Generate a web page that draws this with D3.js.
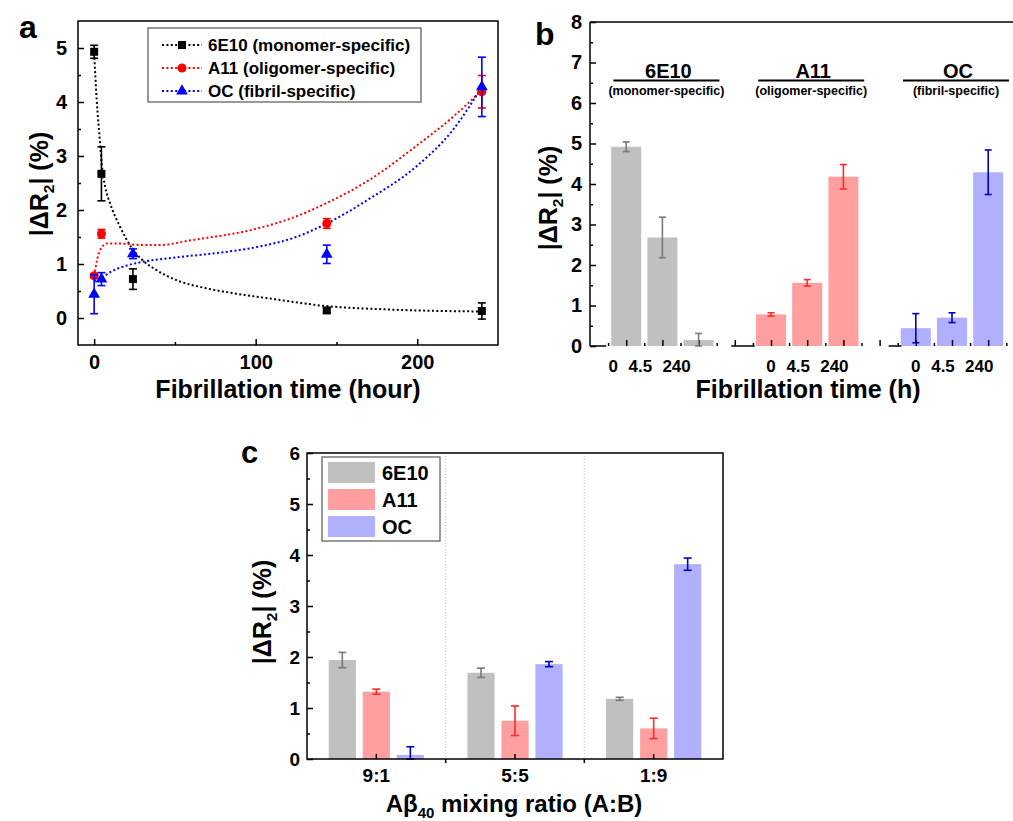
<!DOCTYPE html>
<html>
<head>
<meta charset="utf-8">
<script src="https://cdn.jsdelivr.net/npm/d3@7"></script>
<style>
  body { margin: 0; background: #fff; }
  svg { display: block; font-family: "Liberation Sans", Arial, sans-serif; font-weight: bold; }
</style>
</head>
<body>
<svg id="fig" width="1013" height="821"></svg>
<script>
// ---- panel a: |dR2| vs fibrillation time ----
const monoT = [0, 4.5, 24, 144, 240];
const monoV = [4.93, 2.67, 0.72, 0.14, 0.13];
const monoE = [0.12, 0.5, 0.19, 0.04, 0.15];
const oligoT = [0, 4.5, 144, 240];
const oligoV = [0.78, 1.56, 1.75, 4.19];
const oligoE = [0.04, 0.08, 0.09, 0.3];
const fibT = [0, 4.5, 24, 144, 240];
const fibV = [0.44, 0.72, 1.19, 1.18, 4.28];
const fibE = [0.36, 0.12, 0.09, 0.17, 0.55];

// fitted curves
const monoFitX = [0, 1.6, 3.7, 4.7, 6.8, 9.9, 16, 23, 30, 39, 51, 68, 88, 109, 144, 180, 240];
const monoFitY = [4.9, 4.03, 3.23, 2.85, 2.43, 2.12, 1.69, 1.31, 1.07, 0.88, 0.70, 0.56, 0.45, 0.36, 0.22, 0.16, 0.12];
const oligoFitX = [0, 2, 4.5, 8, 15, 30, 40, 60, 100, 125, 144, 170, 200, 222, 240];
const oligoFitY = [0.78, 1.1, 1.3, 1.38, 1.38, 1.35, 1.35, 1.44, 1.65, 1.88, 2.13, 2.55, 3.2, 3.72, 4.22];
const fibFitX = [0, 4.5, 10, 20, 30, 50, 75, 100, 125, 144, 170, 200, 222, 240];
const fibFitY = [0.68, 0.74, 0.85, 0.97, 1.04, 1.12, 1.2, 1.31, 1.5, 1.75, 2.2, 2.82, 3.48, 4.28];

const legendA = ["6E10 (monomer-specific)", "A11 (oligomer-specific)", "OC (fibril-specific)"];

// ---- panel b ----
const antibodies = ["6E10", "A11", "OC"];
const specific = ["(monomer-specific)", "(oligomer-specific)", "(fibril-specific)"];
const timeLabels = ["0", "4.5", "240"];
const b6E10 = [4.92, 2.68, 0.15];
const b6E10Err = [0.12, 0.5, 0.16];
const bA11 = [0.78, 1.56, 4.18];
const bA11Err = [0.04, 0.08, 0.3];
const bOC = [0.44, 0.70, 4.29];
const bOCErr = [0.36, 0.12, 0.55];

// ---- panel c ----
const ratios = ["9:1", "5:5", "1:9"];
const c6E10 = [1.94, 1.69, 1.18];
const c6E10Err = [0.15, 0.09, 0.03];
const cA11 = [1.32, 0.75, 0.6];
const cA11Err = [0.05, 0.29, 0.2];
const cOC = [0.08, 1.86, 3.82];
const cOCErr = [0.16, 0.05, 0.12];

const barFill = { "6E10": "#c0c0c0", "A11": "#ff9f9f", "OC": "#b0b0ff" };
const errColor = { "6E10": "#7a7a7a", "A11": "#ff2a2a", "OC": "#0000c0" };
const lineColor = { "6E10": "#000000", "A11": "#ff0000", "OC": "#0000ff" };

const svg = d3.select("#fig");
svg.append("rect").attr("width", 1013).attr("height", 821).attr("fill", "#fff");

function styleAxis(g, fs) {
  g.attr("font-family", null).attr("font-size", null);
  g.select(".domain").remove();
  g.selectAll("line").attr("stroke", "#000").attr("stroke-width", 1.5);
  g.selectAll("text").attr("font-size", fs).attr("fill", "#000");
}

function errorBar(g, x, y1, y2, color, cap) {
  g.append("line").attr("x1", x).attr("x2", x).attr("y1", y1).attr("y2", y2)
    .attr("stroke", color).attr("stroke-width", 1.6);
  [y1, y2].forEach(y => g.append("line").attr("x1", x - cap / 2).attr("x2", x + cap / 2)
    .attr("y1", y).attr("y2", y).attr("stroke", color).attr("stroke-width", 1.6));
}

function yTitle(x, y, fs) {
  const t = svg.append("text")
    .attr("transform", `translate(${x},${y}) rotate(-90)`)
    .attr("y", fs * 0.36)
    .attr("text-anchor", "middle")
    .attr("font-size", fs);
  t.append("tspan").text("|\u0394R");
  t.append("tspan").attr("font-size", fs * 0.62).attr("dy", fs * 0.25).text("2");
  t.append("tspan").attr("dy", -fs * 0.25).text("| (%)");
}

const fmtInt = d3.format("d");

// ================= panel a =================
const xA = d3.scaleLinear().domain([-10, 250]).range([78, 498]);
const yA = d3.scaleLinear().domain([-0.5, 5.5]).range([345, 21]);
const gA = svg.append("g");

gA.append("g").attr("transform", "translate(78,0)")
  .call(d3.axisLeft(yA).tickValues(d3.range(0, 5.1, 1)).tickSizeInner(-6).tickSizeOuter(0).tickPadding(11).tickFormat(fmtInt))
  .call(g => styleAxis(g, 20));
gA.append("g").attr("transform", "translate(78,0)")
  .call(d3.axisLeft(yA).tickValues(d3.range(0.5, 5.1, 1)).tickSizeInner(-3).tickSizeOuter(0).tickFormat(""))
  .call(g => styleAxis(g, 20));
gA.append("g").attr("transform", "translate(0,345)")
  .call(d3.axisBottom(xA).tickValues([0, 100, 200]).tickSizeInner(-6).tickSizeOuter(0).tickPadding(10).tickFormat(fmtInt))
  .call(g => styleAxis(g, 20));
gA.append("g").attr("transform", "translate(0,345)")
  .call(d3.axisBottom(xA).tickValues([50, 150]).tickSizeInner(-3).tickSizeOuter(0).tickFormat(""))
  .call(g => styleAxis(g, 20));

gA.append("rect").attr("x", 78).attr("y", 21).attr("width", 420).attr("height", 324)
  .attr("fill", "none").attr("stroke", "#000").attr("stroke-width", 1.5);

const lineA = d3.line().x(d => xA(d[0])).y(d => yA(d[1])).curve(d3.curveMonotoneX);
const seriesA = [
  { key: "6E10", t: monoT, v: monoV, e: monoE, fx: monoFitX, fy: monoFitY, shape: d3.symbolSquare, size: 64 },
  { key: "A11", t: oligoT, v: oligoV, e: oligoE, fx: oligoFitX, fy: oligoFitY, shape: d3.symbolCircle, size: 64 },
  { key: "OC", t: fibT, v: fibV, e: fibE, fx: fibFitX, fy: fibFitY, shape: d3.symbolTriangle, size: 60 }
];

seriesA.forEach(s => {
  gA.append("path")
    .attr("d", lineA(d3.zip(s.fx, s.fy)))
    .attr("fill", "none").attr("stroke", lineColor[s.key])
    .attr("stroke-width", 2).attr("stroke-dasharray", "2,2.4");
});
seriesA.forEach(s => {
  s.t.forEach((t, i) => {
    errorBar(gA, xA(t), yA(s.v[i] + s.e[i]), yA(s.v[i] - s.e[i]), lineColor[s.key], 8);
  });
  gA.selectAll(null).data(d3.zip(s.t, s.v)).join("path")
    .attr("transform", d => `translate(${xA(d[0])},${yA(d[1])})`)
    .attr("d", d3.symbol(s.shape, s.size))
    .attr("fill", lineColor[s.key]);
});

// legend a
const legA = gA.append("g");
legA.append("rect").attr("x", 148).attr("y", 28).attr("width", 273).attr("height", 74)
  .attr("fill", "#fff").attr("stroke", "#555").attr("stroke-width", 1.2);
seriesA.forEach((s, i) => {
  const y = 45 + i * 23;
  legA.append("line").attr("x1", 162).attr("x2", 202).attr("y1", y).attr("y2", y)
    .attr("stroke", lineColor[s.key]).attr("stroke-width", 2).attr("stroke-dasharray", "2,2.4");
  legA.append("path").attr("transform", `translate(182,${y})`)
    .attr("d", d3.symbol(s.shape, s.size)).attr("fill", lineColor[s.key]);
  legA.append("text").attr("x", 208).attr("y", y).attr("dy", "0.36em")
    .attr("font-size", 17).text(legendA[i]);
});

svg.append("text").attr("x", 288).attr("y", 398).attr("text-anchor", "middle")
  .attr("font-size", 25).text("Fibrillation time (hour)");
yTitle(39, 184, 25);
svg.append("text").attr("x", 19).attr("y", 38).attr("font-size", 32).text("a");

// ================= panel b =================
const xB = d3.scaleLinear().domain([0, 12]).range([590, 1024.4]);
const yB = d3.scaleLinear().domain([0, 8]).range([346, 22]);
const gB = svg.append("g");
const slotW = xB(1) - xB(0);
const bw = slotW * 0.83;

const bSeries = [
  { key: "6E10", v: b6E10, e: b6E10Err },
  { key: "A11", v: bA11, e: bA11Err },
  { key: "OC", v: bOC, e: bOCErr }
];

bSeries.forEach((s, gi) => {
  s.v.forEach((v, i) => {
    const slot = gi * 4 + i + 1;
    gB.append("rect")
      .attr("x", xB(slot) - bw / 2).attr("y", yB(v))
      .attr("width", bw).attr("height", yB(0) - yB(v))
      .attr("fill", barFill[s.key]);
  });
});

gB.append("g").attr("transform", "translate(590,0)")
  .call(d3.axisLeft(yB).tickValues(d3.range(0, 8.1, 1)).tickSizeInner(-6).tickSizeOuter(0).tickPadding(8).tickFormat(fmtInt))
  .call(g => styleAxis(g, 20));
gB.append("g").attr("transform", "translate(590,0)")
  .call(d3.axisLeft(yB).tickValues(d3.range(0.5, 8, 1)).tickSizeInner(-3).tickSizeOuter(0).tickFormat(""))
  .call(g => styleAxis(g, 20));
gB.append("g").attr("transform", "translate(0,346)")
  .call(d3.axisBottom(xB).tickValues(d3.range(1, 12, 1)).tickSizeInner(-6).tickSizeOuter(0).tickFormat(""))
  .call(g => styleAxis(g, 17));
gB.append("g").attr("transform", "translate(0,346)")
  .call(d3.axisBottom(xB).tickValues(d3.range(0.5, 12, 1)).tickSizeInner(-3).tickSizeOuter(0).tickFormat(""))
  .call(g => styleAxis(g, 17));

// frame: left and top lines, broken bottom axis
gB.append("line").attr("x1", 590).attr("x2", 590).attr("y1", 22).attr("y2", 346)
  .attr("stroke", "#000").attr("stroke-width", 1.5);
gB.append("line").attr("x1", 590).attr("x2", 1013).attr("y1", 22).attr("y2", 22)
  .attr("stroke", "#000").attr("stroke-width", 1.5);
[[0, 0.45], [3.9, 4.55], [8.25, 8.6]].forEach(seg => {
  gB.append("line").attr("x1", xB(seg[0])).attr("x2", xB(seg[1])).attr("y1", 346).attr("y2", 346)
    .attr("stroke", "#000").attr("stroke-width", 1.5);
});

bSeries.forEach((s, gi) => {
  s.v.forEach((v, i) => {
    const slot = gi * 4 + i + 1;
    errorBar(gB, xB(slot), yB(v + s.e[i]), yB(Math.max(0, v - s.e[i])), errColor[s.key], 7);
  });
});

// time labels and antibody headers
const labShift = [0, -9, -9];
antibodies.forEach((ab, gi) => {
  const gShift = gi === 0 ? -13 : 0;
  timeLabels.forEach((t, i) => {
    gB.append("text").attr("x", xB(gi * 4 + i + 1) + labShift[i] + gShift).attr("y", 372)
      .attr("text-anchor", "middle").attr("font-size", 17).text(t);
  });
  const cx = xB(gi * 4 + 2) + 4;
  gB.append("line").attr("x1", cx - 53).attr("x2", cx + 53).attr("y1", 80.5).attr("y2", 80.5)
    .attr("stroke", "#000").attr("stroke-width", 2);
  gB.append("text").attr("x", cx + 2).attr("y", 78).attr("text-anchor", "middle")
    .attr("font-size", 20).text(ab);
  gB.append("text").attr("x", cx).attr("y", 95).attr("text-anchor", "middle")
    .attr("font-size", 12.5).text(specific[gi]);
});

svg.append("text").attr("x", 808).attr("y", 398).attr("text-anchor", "middle")
  .attr("font-size", 25).text("Fibrillation time (h)");
yTitle(548, 198, 25);
svg.append("text").attr("x", 535).attr("y", 45).attr("font-size", 32).text("b");

// ================= panel c =================
const xC = d3.scaleBand().domain(ratios).range([307, 723]).padding(0);
const sub = d3.scaleBand().domain(antibodies).range([-51, 51]).paddingInner(0.2).paddingOuter(0.1);
const yC = d3.scaleLinear().domain([0, 6]).range([759, 453]);
const gC = svg.append("g");

const cSeries = [
  { key: "6E10", v: c6E10, e: c6E10Err },
  { key: "A11", v: cA11, e: cA11Err },
  { key: "OC", v: cOC, e: cOCErr }
];

// dotted dividers
ratios.slice(1).forEach(r => {
  gC.append("line").attr("x1", xC(r)).attr("x2", xC(r)).attr("y1", 453).attr("y2", 759)
    .attr("stroke", "#bbb").attr("stroke-width", 1).attr("stroke-dasharray", "1,2");
  gC.append("line").attr("x1", xC(r)).attr("x2", xC(r)).attr("y1", 759).attr("y2", 763)
    .attr("stroke", "#000").attr("stroke-width", 1.5);
});

cSeries.forEach(s => {
  gC.selectAll(null).data(ratios).join("rect")
    .attr("x", (r) => xC(r) + xC.bandwidth() / 2 + sub(s.key))
    .attr("y", (r, i) => yC(s.v[i]))
    .attr("width", sub.bandwidth())
    .attr("height", (r, i) => yC(0) - yC(s.v[i]))
    .attr("fill", barFill[s.key]);
});
cSeries.forEach(s => {
  ratios.forEach((r, i) => {
    const x = xC(r) + xC.bandwidth() / 2 + sub(s.key) + sub.bandwidth() / 2;
    errorBar(gC, x, yC(s.v[i] + s.e[i]), yC(Math.max(0, s.v[i] - s.e[i])), errColor[s.key], 8);
  });
});

gC.append("g").attr("transform", "translate(307,0)")
  .call(d3.axisLeft(yC).tickValues(d3.range(0, 6.1, 1)).tickSizeInner(-6).tickSizeOuter(0).tickPadding(7).tickFormat(fmtInt))
  .call(g => styleAxis(g, 19));
gC.append("g").attr("transform", "translate(307,0)")
  .call(d3.axisLeft(yC).tickValues(d3.range(0.5, 6, 1)).tickSizeInner(-3).tickSizeOuter(0).tickFormat(""))
  .call(g => styleAxis(g, 19));
gC.append("g").attr("transform", "translate(0,759)")
  .call(d3.axisBottom(xC).tickSizeInner(-5).tickSizeOuter(0).tickPadding(10))
  .call(g => styleAxis(g, 19));

gC.append("rect").attr("x", 307).attr("y", 453).attr("width", 416).attr("height", 306)
  .attr("fill", "none").attr("stroke", "#000").attr("stroke-width", 1.5);

// legend c
const legC = gC.append("g");
legC.append("rect").attr("x", 322).attr("y", 457).attr("width", 118).attr("height", 84)
  .attr("fill", "#fff").attr("stroke", "#555").attr("stroke-width", 1.2);
antibodies.forEach((ab, i) => {
  const y = 462 + i * 27;
  legC.append("rect").attr("x", 328).attr("y", y).attr("width", 47).attr("height", 21)
    .attr("fill", barFill[ab]);
  legC.append("text").attr("x", 382).attr("y", y + 10.5).attr("dy", "0.36em")
    .attr("font-size", 20).text(ab);
});

const xt = svg.append("text").attr("x", 514).attr("y", 812).attr("text-anchor", "middle")
  .attr("font-size", 24);
xt.append("tspan").text("A\u03b2");
xt.append("tspan").attr("font-size", 15).attr("dy", 6).text("40");
xt.append("tspan").attr("dy", -6).text(" mixing ratio (A:B)");
yTitle(262, 612, 25);
svg.append("text").attr("x", 241).attr("y", 463).attr("font-size", 31).text("c");
</script>
</body>
</html>
